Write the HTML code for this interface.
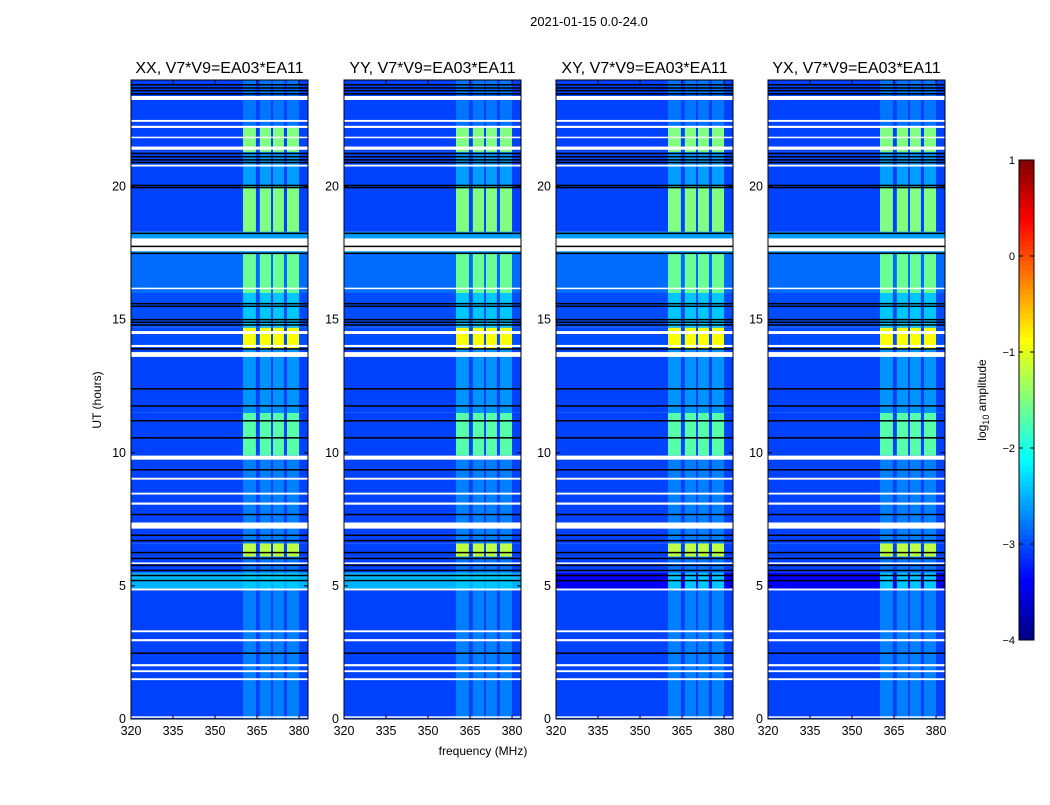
<!DOCTYPE html>
<html><head><meta charset="utf-8"><style>
body{margin:0;background:#fff;width:1050px;height:800px;overflow:hidden;font-family:"Liberation Sans",sans-serif}
</style></head><body>
<svg id="fig" width="1050" height="800" xmlns="http://www.w3.org/2000/svg" font-family="Liberation Sans, sans-serif">
<text x="589" y="26" font-size="13" text-anchor="middle">2021-01-15 0.0-24.0</text>
<text x="483" y="755" font-size="12" text-anchor="middle">frequency (MHz)</text>
<text transform="translate(101,400) rotate(-90)" font-size="12" text-anchor="middle">UT (hours)</text>
<text transform="translate(986,400) rotate(-90)" font-size="12" text-anchor="middle">log<tspan font-size="9" dy="3">10</tspan><tspan dy="-3"> amplitude</tspan></text>
<g id="panels"></g>
<g id="cbar"></g>
</svg>
<script>
const panelTitles=["XX, V7*V9=EA03*EA11","YY, V7*V9=EA03*EA11","XY, V7*V9=EA03*EA11","YX, V7*V9=EA03*EA11"];
const panelLefts=[131,344,556,768];
const freqTicks=[320,335,350,365,380];
const utTicks=[0,5,10,15,20];
const cbarTicks=[1,0,-1,-2,-3,-4];
const cbarLabels=["1","0","\u22121","\u22122","\u22123","\u22124"];
const segStart=[0,4.85,5.5,6.1,6.6,9.9,11.5,13.9,14.7,16.0,17.5,18.3,20.0,21.3,22.2];
const segEnd=[4.85,5.5,6.1,6.6,9.9,11.5,13.9,14.7,16.0,17.5,18.3,20.0,21.3,22.2,24];
const segBg=[-3.05,-2.5,-3.05,-3.05,-3.05,-3.05,-3.05,-3.0,-3.0,-2.85,-2.6,-3.05,-3.05,-3.05,-3.05];
const segBand=[-2.75,-2.4,-2.8,-1.2,-2.75,-1.7,-2.65,-0.9,-2.4,-1.6,-2.6,-1.5,-2.6,-1.5,-2.8];
const crossBg5=-3.4;
const bandLo=[360,366,370.7,375.7];
const bandHi=[364.6,370,374.6,380];
const flagLo=[23.25,22.43,22.2,21.82,21.38,20.75,17.57,16.15,14.46,13.97,13.6,9.74,8.99,8.43,8.05,7.15,5.84,4.83,3.26,2.92,1.98,1.76,1.46,0.05];
const flagHi=[23.4,22.5,22.28,21.87,21.5,20.82,18.05,16.2,14.57,14.05,13.78,9.89,9.06,8.5,8.13,7.38,5.88,4.9,3.33,3.0,2.06,1.83,1.53,0.1];
const blackUT=[23.82,23.7,23.6,23.48,21.24,21.12,21.0,20.9,20.04,19.96,18.24,17.75,17.49,15.6,15.5,15.0,14.9,14.8,13.9,12.4,11.76,11.2,10.56,9.36,7.68,6.9,6.7,6.25,6.03,5.77,5.58,5.39,5.2,2.47];

const NS="http://www.w3.org/2000/svg";
function mk(t,a,p){const e=document.createElementNS(NS,t);for(const k in a)e.setAttribute(k,a[k]);p.appendChild(e);return e;}
function jet(v){v=Math.max(0,Math.min(1,v));
 const r=Math.max(0,Math.min(1,Math.min(4*v-1.5,-4*v+4.5)));
 const g=Math.max(0,Math.min(1,Math.min(4*v-0.5,-4*v+3.5)));
 const b=Math.max(0,Math.min(1,Math.min(4*v+0.5,-4*v+2.5)));
 return `rgb(${Math.round(r*255)},${Math.round(g*255)},${Math.round(b*255)})`;}
function col(l){return jet((l+4)/5);}
const yTop=80,yBot=719,W=177;
const fMin=320,fMax=383.2;
function yS(u){return yBot-(u/24)*(yBot-yTop);}
const panelsG=document.getElementById('panels');
panelLefts.forEach((L,pi)=>{
 const xS=f=>L+(f-fMin)/(fMax-fMin)*W;
 const g=mk('g',{},panelsG);
 
 
 for(let i=0;i<segStart.length;i++){
  let bg=segBg[i]; if(pi>=2&&i===1)bg=crossBg5;
  const r=mk('rect',{x:L,y:yS(segEnd[i]),width:W,height:yS(segStart[i])-yS(segEnd[i]),fill:col(bg)},g);
  
  
  for(let j=0;j<bandLo.length;j++){
   const b=mk('rect',{x:xS(bandLo[j]),y:yS(segEnd[i]),width:xS(bandHi[j])-xS(bandLo[j]),height:yS(segStart[i])-yS(segEnd[i]),fill:col(segBand[i])},g);
   
   
  }
 }
 for(let i=0;i<flagLo.length;i++){
  const r=mk('rect',{x:L,y:yS(flagHi[i]),width:W,height:Math.max(1.5,yS(flagLo[i])-yS(flagHi[i])),fill:'#fff'},g);
  
  
 }
 blackUT.forEach(u=>{
  const r=mk('rect',{x:L,y:yS(u)-0.75,width:W,height:1.5,fill:'#000'},g);
  
  
 });
 const fr=mk('rect',{x:L,y:yTop,width:W,height:yBot-yTop,fill:'none',stroke:'#000','stroke-width':1},g);
 
 
 const t=mk('text',{x:L+W/2,y:yTop-7,'font-size':16,'text-anchor':'middle'},g);
 t.textContent=panelTitles[pi];
 
 
 freqTicks.forEach(f=>{
  const x=xS(f);
  mk('line',{x1:x,x2:x,y1:yBot,y2:yBot-4,stroke:'#000'},g);
  mk('line',{x1:x,x2:x,y1:yTop,y2:yTop+4,stroke:'#000'},g);
  const tx=mk('text',{x:x,y:yBot+16,'font-size':12.5,'text-anchor':'middle'},g);
  tx.textContent=f;
  
  
 });
 utTicks.forEach(u=>{
  const y=yS(u);
  mk('line',{x1:L,x2:L+4,y1:y,y2:y,stroke:'#000'},g);
  mk('line',{x1:L+W,x2:L+W-4,y1:y,y2:y,stroke:'#000'},g);
  const ty=mk('text',{x:L-5,y:y+4,'font-size':12.5,'text-anchor':'end'},g);
  ty.textContent=u;
  
  
 });
});
const cb=document.getElementById('cbar');
const cx=1019,cw=15,ct=160,cbt=640;
const cyS=v=>cbt-(v+4)/5*(cbt-ct);
for(let i=0;i<100;i++){
 const v0=-4+i*0.05;
 const r=mk('rect',{x:cx,y:cyS(v0+0.05)-0.3,width:cw,height:(cbt-ct)/100+0.6,fill:col(v0+0.025)},cb);
 
 
}
const cf=mk('rect',{x:cx,y:ct,width:cw,height:cbt-ct,fill:'none',stroke:'#000'},cb);


cbarTicks.forEach((v,i)=>{
 const y=cyS(v);
 mk('line',{x1:cx,x2:cx+4,y1:y,y2:y,stroke:'#000'},cb);
 mk('line',{x1:cx+cw,x2:cx+cw-4,y1:y,y2:y,stroke:'#000'},cb);
 const t=mk('text',{x:cx-4,y:y+4,'font-size':11,'text-anchor':'end'},cb);
 t.textContent=cbarLabels[i];
 
 
});
</script>
</body></html>
